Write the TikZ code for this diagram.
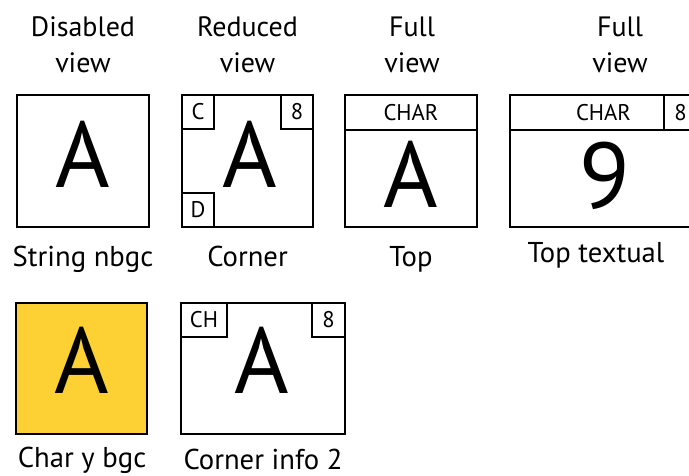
\documentclass[tikz,border=0pt]{standalone}
\usepackage{fontspec}
\setmainfont{PT Sans}
\usetikzlibrary{positioning}
\definecolor{bgyellow}{HTML}{FDD034}

\begin{document}
\begin{tikzpicture}[
    x=0.75pt, y=-0.75pt,
    cell/.style={rectangle, draw, line width=1.5pt, inner sep=0pt, minimum width=99pt, minimum height=99pt},
    tag/.style={rectangle, draw, line width=1.5pt, inner sep=0pt, minimum width=24pt, minimum height=25.5pt, font=\fontsize{17}{17}\selectfont},
    header/.style={tag, anchor=north west, minimum height=26.25pt},
    glyph/.style={anchor=base, inner sep=0pt, font=\fontsize{70}{70}\selectfont},
    heading/.style={anchor=base, align=center, inner sep=0pt, font=\fontsize{21}{27}\selectfont},
    caption/.style={anchor=base, inner sep=0pt, font=\fontsize{21.5}{21.5}\selectfont}
]
    \useasboundingbox (0,0) rectangle (689,475);
    \clip (0,0) rectangle (689,475);

    \node[heading] (h1) at (83,72) {Disabled\\view};
    \node[heading] (h2) at (247.5,72) {Reduced\\view};
    \node[heading] (h3) at (412,72) {Full\\view};
    \node[heading] (h4) at (620,72) {Full\\view};

    \node[cell] (nbgc) at (83,161) {};
    \node[glyph] (nbgcA) at (83,187) {A};
    \node[caption] (nbgcL) at (83,266) {String nbgc};

    \node[cell, minimum width=98.25pt] (corner) at (247.5,161) {};
    \node[tag, anchor=north west] (cornerC) at (corner.north west) {C};
    \node[tag, anchor=north east] (corner8) at (corner.north east) {8};
    \node[tag, anchor=south west] (cornerD) at (corner.south west) {D};
    \node[glyph] (cornerA) at (250,187) {A};
    \node[caption] (cornerL) at (247.5,266) {Corner};

    \node[cell] (top) at (411,161) {};
    \node[header, minimum width=99pt] (topH) at (top.north west) {CHAR};
    \node[glyph] (topA) at (411,207) {A};
    \node[caption] (topL) at (411,266) {Top};

    \node[cell, minimum width=140.25pt] (text) at (603.5,161) {};
    \node[header, minimum width=140.25pt] (textH) at (text.north west) {CHAR};
    \node[tag, anchor=north east, minimum width=24.75pt, minimum height=26.25pt] (text8) at (text.north east) {8};
    \node[glyph] (text9) at (605,208) {9};
    \node[caption] (textL) at (596,262) {Top textual};

    \node[cell, fill=bgyellow, minimum width=98.25pt, minimum height=98.25pt] (bgc) at (81.5,368.5) {};
    \node[glyph] (bgcA) at (82,393) {A};
    \node[caption] (bgcL) at (82,467) {Char y bgc};

    \node[cell, minimum width=123pt, minimum height=98.25pt] (info) at (263,368.5) {};
    \node[tag, anchor=north west, minimum width=34.5pt] (infoCH) at (info.north west) {CH};
    \node[tag, anchor=north east, minimum width=24.75pt] (info8) at (info.north east) {8};
    \node[glyph] (infoA) at (262,393) {A};
    \node[caption] (infoL) at (263,469) {Corner info 2};
\end{tikzpicture}
\end{document}
